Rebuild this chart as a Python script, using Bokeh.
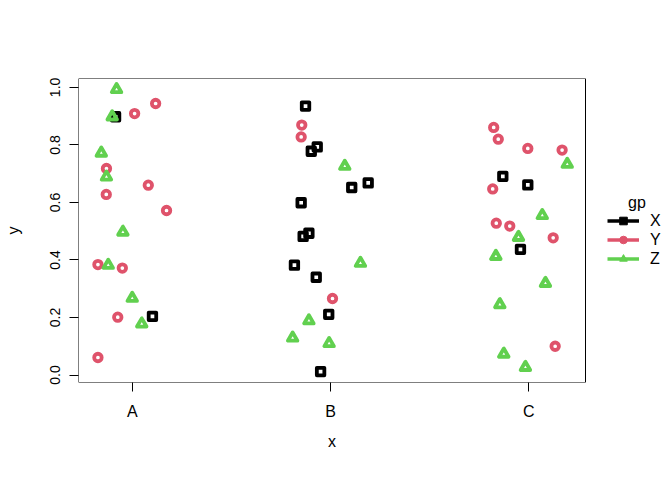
import numpy as np
from bokeh.plotting import figure
from bokeh.models import (Range1d, FixedTicker, Legend, LegendItem, Label, NumeralTickFormatter,
                          BoxAnnotation, Title)
from bokeh.embed import file_html
from bokeh.resources import INLINE

# ---- data ----
categories = ["A", "B", "C"]
cat_pos = [1, 2, 3]
y_ticks = [0.0, 0.2, 0.4, 0.6, 0.8, 1.0]
groups = ["X", "Y", "Z"]
colors = ["#000000", "#DF536B", "#61D04F"]
markers = ["square", "circle", "triangle"]

# jittered x positions (1=A, 2=B, 3=C) and y values per group
x_X = [0.916, 1.102,
       1.874, 1.933, 1.903, 2.190, 2.107, 1.852, 1.891, 1.862, 1.818, 1.928, 1.991, 1.950,
       2.869, 2.995, 2.958]
y_X = [0.898, 0.204,
       0.935, 0.793, 0.778, 0.668, 0.652, 0.599, 0.493, 0.482, 0.382, 0.340, 0.211, 0.012,
       0.691, 0.661, 0.437]

x_Y = [1.118, 1.012, 0.870, 1.081, 0.869, 1.173, 0.827, 0.950, 0.927, 0.827,
       1.855, 1.852, 2.010,
       2.823, 2.846, 2.995, 3.168, 2.818, 2.836, 2.904, 3.123, 3.133]
y_Y = [0.944, 0.909, 0.718, 0.660, 0.628, 0.572, 0.384, 0.372, 0.201, 0.061,
       0.869, 0.828, 0.266,
       0.861, 0.820, 0.788, 0.782, 0.647, 0.528, 0.518, 0.477, 0.100]

x_Z = [0.921, 0.899, 0.844, 0.870, 0.953, 0.879, 1.000, 1.048,
       2.072, 2.151, 1.891, 1.809, 1.993,
       3.194, 3.068, 2.948, 2.834, 3.084, 2.854, 2.874, 2.983]
y_Z = [0.993, 0.898, 0.772, 0.689, 0.497, 0.382, 0.267, 0.178,
       0.726, 0.389, 0.189, 0.129, 0.110,
       0.733, 0.555, 0.479, 0.413, 0.319, 0.245, 0.073, 0.027]

series_x = [x_X, x_Y, x_Z]
series_y = [y_X, y_Y, y_Z]
marker_sizes = [7.5, 7.5, 9.5]

# axis limits of the boxed plot region
xlim = (0.729, 3.286)
ylim = (-0.026, 1.031)

FONT = "Liberation Sans"
W, H = 664, 472
BL, BT, BB = 78, 78, 90
box_px = 507  # width of the boxed region in px; frame extends to the right edge for the legend
frame_px = W - BL
x_end = xlim[0] + (xlim[1] - xlim[0]) * frame_px / box_px

p = figure(width=W, height=H, output_backend="svg", toolbar_location=None,
           x_range=Range1d(xlim[0], x_end), y_range=Range1d(*ylim),
           min_border_left=BL, min_border_right=0, min_border_top=BT, min_border_bottom=BB)
p.xgrid.visible = False
p.ygrid.visible = False
p.outline_line_color = None
p.background_fill_color = "white"
p.border_fill_color = "white"

p.add_layout(BoxAnnotation(left=xlim[0], right=xlim[1], bottom=ylim[0], top=ylim[1],
                           fill_alpha=0, line_color="black", line_alpha=1.0, line_width=1,
                           level="overlay"))

for ax in (p.xaxis, p.yaxis):
    ax.axis_line_color = None
    ax.major_tick_out = 9
    ax.major_tick_in = 0
    ax.major_tick_line_color = "black"
    ax.minor_tick_line_color = None
    ax.major_label_text_font = FONT
    ax.major_label_text_color = "black"
    ax.axis_label_text_font = FONT
    ax.axis_label_text_font_size = "16px"
    ax.axis_label_text_font_style = "normal"
    ax.axis_label_text_color = "black"

p.xaxis.ticker = FixedTicker(ticks=cat_pos)
p.xaxis.major_label_overrides = {k: v for k, v in zip(cat_pos, categories)}
p.xaxis.major_label_text_font_size = "16px"
p.xaxis.major_label_standoff = 11

p.add_layout(Title(text="x", align="left", offset=box_px / 2 - 4, standoff=16,
                   text_font=FONT, text_font_size="16px", text_font_style="normal",
                   text_color="black"), "below")

p.yaxis.ticker = FixedTicker(ticks=y_ticks)
p.yaxis.formatter = NumeralTickFormatter(format="0.0")
p.yaxis.major_label_orientation = "vertical"
p.yaxis.major_label_text_font_size = "14px"
p.yaxis.major_label_standoff = 9
p.yaxis.axis_label = "y"
p.yaxis.axis_label_standoff = 26

for xs, ys, c, m, s in zip(series_x, series_y, colors, markers, marker_sizes):
    p.scatter(xs, ys, marker=m, size=s, fill_color=None, line_color=c,
              line_width=3.8, line_join="round")

items = []
for g, c, m in zip(groups, colors, markers):
    lr = p.line(x=[np.nan], y=[np.nan], line_color=c, line_width=3.5)
    sr = p.scatter(x=[np.nan], y=[np.nan], marker=m, size=8, fill_color=c, line_color=c)
    items.append(LegendItem(label=g, renderers=[lr, sr]))

legend = Legend(items=items, location=(529, 114), padding=0, margin=0, spacing=0,
                glyph_width=32, glyph_height=19, label_height=19, label_standoff=11,
                label_text_font=FONT, label_text_font_size="16px", label_text_color="black",
                border_line_color=None, background_fill_alpha=0)
p.add_layout(legend)

p.add_layout(Label(x=549.5, y=180.4, x_units="screen", y_units="screen", text="gp",
                   text_font=FONT, text_font_size="16px", text_baseline="alphabetic",
                   text_color="black"))

open("out.html", "w").write(file_html(p, INLINE))
